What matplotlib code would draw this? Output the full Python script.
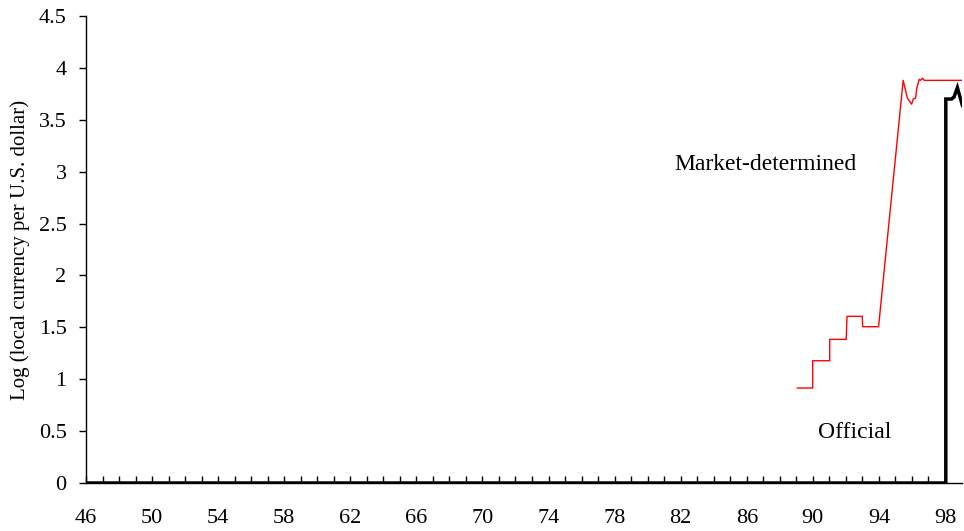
import matplotlib
matplotlib.use("Agg")
import matplotlib.pyplot as plt
from matplotlib.ticker import FixedLocator

plt.rcParams['font.family'] = ['Liberation Serif', 'DejaVu Serif']

# Official exchange rate (log), breakpoints by year
official_year = [46.0, 98.05, 98.05, 98.4, 98.55, 98.75, 99.05]
official_val = [0.0, 0.0, 3.70, 3.70, 3.72, 3.81, 3.64]

# Market-determined exchange rate (log), breakpoints by year
market_year = [89.06, 89.99, 89.99, 91.02, 91.02, 92.02, 92.07, 92.99, 93.02, 93.98,
               95.47, 95.72, 95.98, 96.08, 96.22, 96.3, 96.44, 96.52, 96.64, 96.74, 99.05]
market_val = [0.915, 0.915, 1.178, 1.178, 1.384, 1.384, 1.606, 1.606, 1.506, 1.506,
              3.88, 3.71, 3.65, 3.70, 3.71, 3.81, 3.89, 3.88, 3.90, 3.88, 3.88]

xtick_years = list(range(46, 99, 4))
xtick_labels = [str(y) for y in xtick_years]
xminor_years = list(range(47, 98))
ytick_vals = [0, 0.5, 1, 1.5, 2, 2.5, 3, 3.5, 4, 4.5]
ytick_labels = ['0', '0.5', '1', '1.5', '2', '2.5', '3', '3.5', '4', '4.5']

fig = plt.figure(figsize=(9.64, 5.31), dpi=100)
ax = fig.add_axes([86 / 964, 48 / 531, 876 / 964, 467 / 531])

ax.plot(market_year, market_val, color='red', lw=1.0, zorder=3)
ax.plot(official_year, official_val, color='black', lw=2.5, zorder=4,
        solid_joinstyle='miter')

ax.set_xlim(46, 99.03)
ax.set_ylim(0, 4.5)

ax.xaxis.set_major_locator(FixedLocator(xtick_years))
ax.set_xticklabels(xtick_labels)
ax.xaxis.set_minor_locator(FixedLocator(xminor_years))
ax.tick_params(axis='x', which='both', direction='in', length=5, width=1,
               labelsize=16, pad=19, color='black')
ax.set_yticks(ytick_vals)
ax.set_yticklabels(ytick_labels)
ax.tick_params(axis='y', which='major', direction='out', length=5, width=1,
               labelsize=16, pad=9)

for s in ['top', 'right']:
    ax.spines[s].set_visible(False)
for s in ['left', 'bottom']:
    ax.spines[s].set_linewidth(1.0)

ax.set_ylabel('Log (local currency per U.S. dollar)', fontsize=15, labelpad=6)

ax.text(765, 531 - 165, 'Market-determined', fontsize=17, ha='center', va='center',
        transform=None)
ax.text(855, 531 - 432, 'Official', fontsize=17, ha='center', va='center',
        transform=None)

fig.savefig('out.png', dpi=100)
